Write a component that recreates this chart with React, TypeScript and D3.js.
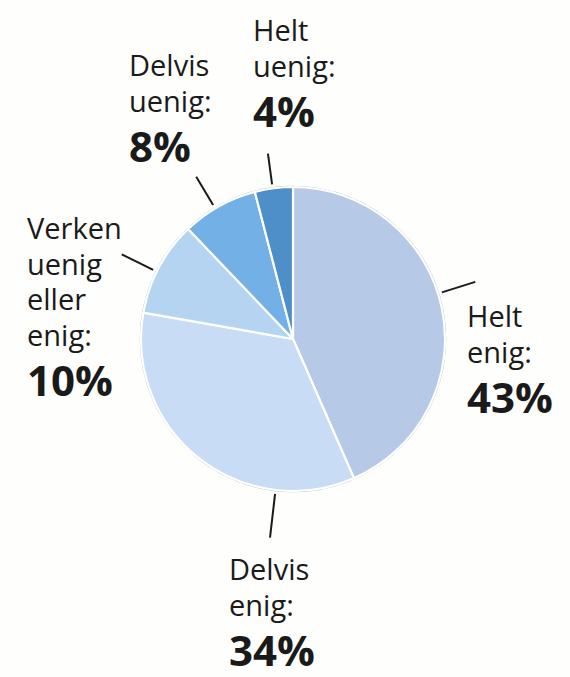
import React from "react";
import * as d3 from "d3";

const categories = ["Helt enig", "Delvis enig", "Verken uenig eller enig", "Delvis uenig", "Helt uenig"];
const values = [43, 34, 10, 8, 4];
const labelLines = [
  ["Helt", "enig:"],
  ["Delvis", "enig:"],
  ["Verken", "uenig", "eller", "enig:"],
  ["Delvis", "uenig:"],
  ["Helt", "uenig:"],
];
const percentLabels = ["43%", "34%", "10%", "8%", "4%"];

const colors = ["#b6c9e6", "#c9dcf5", "#b4d4f1", "#72b0e5", "#4e8fc9"];

// layout (label anchors, leader angles in degrees clockwise from top)
const labelPos = [
  { x: 467, y: 327 },
  { x: 229, y: 580 },
  { x: 27, y: 239 },
  { x: 129, y: 76 },
  { x: 253, y: 41 },
];
const leaderAngles = [72.6, 186.6, 296.3, 329.2, 352.3];
const leaderOuter = [191, 200, 191, 189, 187];

const W = 570;
const H = 677;
const cx = 293;
const cy = 339;
const R = 152;

export default function App() {
  const pie = d3.pie<number>().sort(null).value((d) => d);
  const arcs = pie(values);
  const arc = d3.arc<d3.PieArcDatum<number>>().innerRadius(0).outerRadius(R);
  const font = "'Open Sans', 'Noto Sans', sans-serif";
  const lineH = 35.5;
  const gap = 50;
  return (
    <svg width={W} height={H} style={{ position: "absolute", left: 0, top: 0, background: "#fefefc" }}>
      <rect x={0} y={0} width={W} height={H} fill="#fefefc" />
      <g transform={`translate(${cx},${cy})`}>
        <circle r={R + 0.5} fill="none" stroke="#a9b8c8" strokeWidth={1.5} />
        {arcs.map((a, i) => (
          <path key={categories[i]} d={arc(a) || ""} fill={colors[i]} stroke="#ffffff" strokeWidth={2.2} strokeLinejoin="round" />
        ))}
        {leaderAngles.map((deg, i) => {
          const t = (deg * Math.PI) / 180;
          const r0 = R + 4;
          const r1 = leaderOuter[i];
          return (
            <line
              key={"l" + i}
              x1={Math.sin(t) * r0}
              y1={-Math.cos(t) * r0}
              x2={Math.sin(t) * r1}
              y2={-Math.cos(t) * r1}
              stroke="#1a1a1a"
              strokeWidth={2}
            />
          );
        })}
      </g>
      {labelLines.map((lines, i) => {
        const p = labelPos[i];
        const n = lines.length;
        return (
          <g key={"t" + i} fontFamily={font} fill="#1a1a1a">
            {lines.map((ln, j) => (
              <text key={j} x={p.x} y={p.y + j * lineH} fontSize={29} fontWeight={500}>
                {ln}
              </text>
            ))}
            <text x={p.x} y={p.y + (n - 1) * lineH + gap} fontSize={42} fontWeight={700}>
              {percentLabels[i]}
            </text>
          </g>
        );
      })}
    </svg>
  );
}
